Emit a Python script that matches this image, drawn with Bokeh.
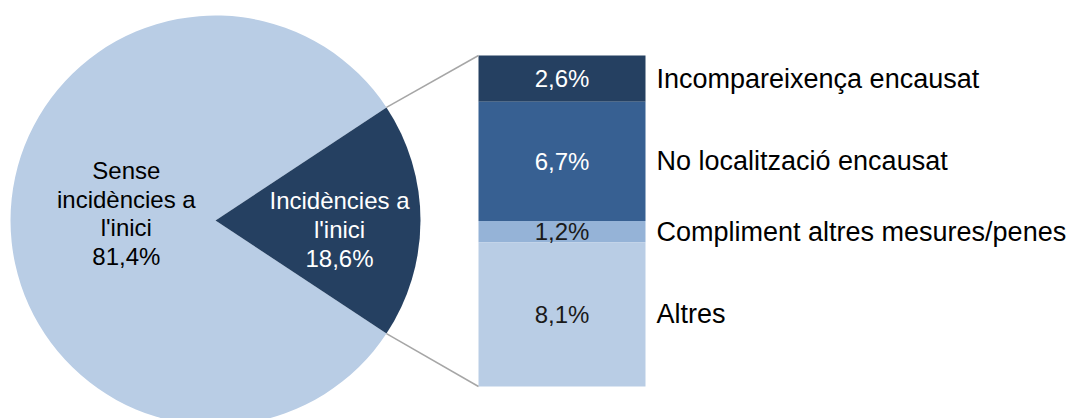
import math
from bokeh.plotting import figure
from bokeh.models import Range1d
from bokeh.core.properties import value
from bokeh.embed import file_html
from bokeh.resources import INLINE

# ---- data ----
pie_labels = ["Sense\nincidències a\nl'inici", "Incidències a\nl'inici"]
pie_values = [81.4, 18.6]
bar_labels = ["Incompareixença encausat", "No localització encausat",
              "Compliment altres mesures/penes", "Altres"]
bar_values = [2.6, 6.7, 1.2, 8.1]   # top to bottom

# ---- styles ----
PIE_COLORS = ["#B9CDE5", "#254061"]
BAR_COLORS = ["#254061", "#376092", "#95B3D7", "#B9CDE5"]
BAR_TEXT = ["white", "white", "#1a1a1a", "#1a1a1a"]
FONT = value("Liberation Sans")

def fmt(v):
    return f"{v:.1f}".replace(".", ",") + "%"

W, H = 1075, 418
p = figure(width=W, height=H, output_backend="svg", toolbar_location=None,
           x_range=Range1d(0, W), y_range=Range1d(0, H),
           min_border=0, outline_line_color=None, background_fill_color="white")
p.axis.visible = False
p.grid.visible = False

# pie layout
cx, cy, r = 215, H - 220, 205
total_pie = sum(pie_values)
half = math.pi * pie_values[1] / total_pie
p.wedge(x=cx, y=cy, radius=r, start_angle=half, end_angle=2 * math.pi - half,
        fill_color=PIE_COLORS[0], line_color=None)
p.wedge(x=cx, y=cy, radius=r, start_angle=-half, end_angle=half,
        fill_color=PIE_COLORS[1], line_color=None)

# bar on its own range
bar_total = sum(bar_values)
bar_top_px, bar_bot_px = 55, 386
k = (bar_bot_px - bar_top_px) / bar_total
p.extra_y_ranges = {"bar": Range1d(start=-(H - bar_bot_px) / k,
                                   end=bar_total + bar_top_px / k)}
bar_x, bar_w = 561.5, 167
tops, bottoms = [], []
acc = bar_total
for v in bar_values:
    tops.append(acc)
    bottoms.append(acc - v)
    acc -= v
p.vbar(x=bar_x, width=bar_w, top=tops, bottom=bottoms, fill_color=BAR_COLORS,
       line_color=None, y_range_name="bar")
mids = [(t + b) / 2 for t, b in zip(tops, bottoms)]
p.text(x=[bar_x] * 4, y=mids, text=[fmt(v) for v in bar_values], text_color=BAR_TEXT,
       text_font=FONT, text_font_size="24px", text_align="center",
       text_baseline="middle", y_range_name="bar")
p.text(x=[656] * 4, y=mids, text=bar_labels, text_color="black",
       text_font=FONT, text_font_size="27px", text_align="left",
       text_baseline="middle", y_range_name="bar")

# connector lines (pie edge -> bar corners), in main coordinates
def bar_to_main(v):
    return (H - bar_bot_px) + v * k
left_x = bar_x - bar_w / 2
p.segment(x0=[cx + r * math.cos(half), cx + r * math.cos(-half)],
          y0=[cy + r * math.sin(half), cy + r * math.sin(-half)],
          x1=[left_x, left_x], y1=[bar_to_main(bar_total), bar_to_main(0)],
          line_color="#A6A6A6", line_width=1.5)

# pie labels
p.text(x=[cx - 0.435 * r, cx + 0.605 * r], y=[cy + 7, cy - 9],
       text=[pie_labels[0] + "\n" + fmt(pie_values[0]),
             pie_labels[1] + "\n" + fmt(pie_values[1])],
       text_color=["black", "white"], text_font=FONT, text_font_size="24px",
       text_align="center", text_baseline="middle", text_line_height=1.07)

open("out.html", "w").write(file_html(p, INLINE))
